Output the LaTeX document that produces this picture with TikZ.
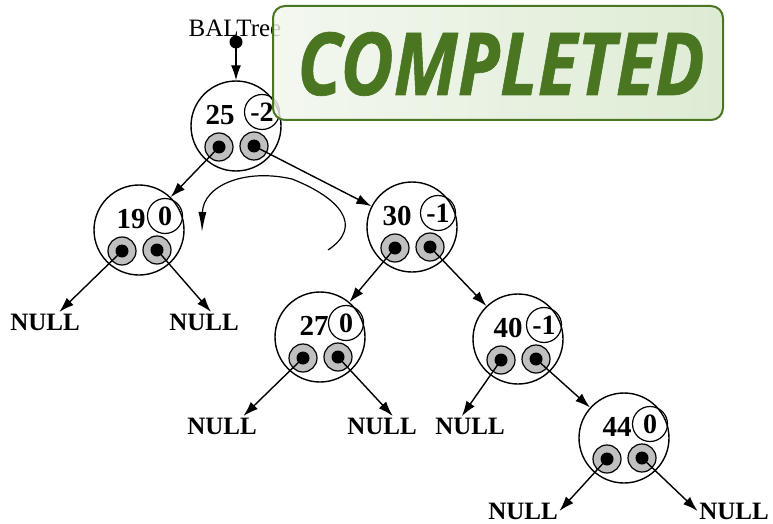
\documentclass[tikz,border=0pt]{standalone}
\usepackage{fontspec}
\setmainfont{Liberation Serif}
\newfontfamily\stampfont{Open Sans}[BoldItalicFeatures={FakeBold=0.8}]
\usetikzlibrary{arrows.meta}
\definecolor{stampG}{HTML}{4A7622}
\definecolor{stampL}{HTML}{F1F6ED}
\definecolor{stampR}{HTML}{D6E7CA}
\definecolor{ptrgray}{HTML}{C0C0C0}
\tikzset{
  bignode/.style={circle, draw, line width=1.4pt, minimum size=90pt, inner sep=0pt},
  balnode/.style={circle, draw, line width=1.2pt, minimum size=35pt, inner sep=0pt, font=\fontsize{28}{28}\selectfont\bfseries},
  keynode/.style={inner sep=0pt, font=\fontsize{29}{29}\selectfont\bfseries},
  ptrnode/.style={circle, draw, fill=ptrgray, line width=1.2pt, minimum size=28pt, inner sep=0pt},
  dotnode/.style={circle, fill=black, minimum size=13pt, inner sep=0pt},
  nullnode/.style={inner sep=1.5pt, font=\fontsize{25}{25}\selectfont\bfseries},
  conn/.style={line width=1.4pt, -{Latex[length=15pt,width=10pt]}},
  curvearrow/.style={line width=1.2pt, -{Latex[length=20pt,width=8pt]}},
  stampbox/.style={draw=stampG, line width=2pt, rounded corners=12pt, left color=stampL, right color=stampR, fill opacity=0.82, minimum width=450pt, minimum height=114pt, inner sep=0pt},
}
\newcommand\avl[6]{%
  \node[bignode] (#1) at (#2,#3) {};
  \node[keynode] (#1k) at ([shift={(#5,-11)}]#1.center) {#4};
  \node[balnode] (#1b) at ([shift={(26,-14)}]#1.center) {#6};
  \node[ptrnode] (#1l) at ([shift={(-17,21)}]#1.center) {};
  \node[ptrnode] (#1r) at ([shift={(18,20)}]#1.center) {};
  \node[dotnode] (#1ld) at (#1l.center) {};
  \node[dotnode] (#1rd) at (#1r.center) {};
}
\begin{document}
\begin{tikzpicture}[x=1pt,y=-1pt]
\useasboundingbox (0,0) rectangle (773,524);
% title and root pointer
\node[anchor=base, inner sep=0pt, font=\fontsize{25}{25}\selectfont] (title) at (235,37) {BALTree};
\node[dotnode] (root) at (236,42) {};
% tree nodes
\avl{n25}{236}{126}{25}{-16}{-2}
\avl{n19}{139}{230}{19}{-8}{0}
\avl{n30}{412}{227}{30}{-15}{-1}
\avl{n27}{320}{337}{27}{-6}{0}
\avl{n40}{518}{339}{40}{-10}{-1}
\avl{n44}{624}{438}{44}{-7}{0}
% NULL leaves
\node[nullnode] (null1) at (45,322) {NULL};
\node[nullnode] (null2) at (204,322) {NULL};
\node[nullnode] (null3) at (222,426) {NULL};
\node[nullnode] (null4) at (382,426) {NULL};
\node[nullnode] (null5) at (470,426) {NULL};
\node[nullnode] (null6) at (523,511) {NULL};
\node[nullnode] (null7) at (734,511) {NULL};
% connectors
\draw[conn] (root.center) -- (n25);
\draw[conn] (n25l.center) -- (n19);
\draw[conn] (n25r.center) -- (n30);
\draw[conn] (n19l.center) -- (null1.35);
\draw[conn] (n19r.center) -- (null2.55);
\draw[conn] (n30l.center) -- (n27);
\draw[conn] (n30r.center) -- (n40);
\draw[conn] (n27l.center) -- (null3.25);
\draw[conn] (n27r.center) -- (null4.43);
\draw[conn] (n40l.center) -- (null5.129);
\draw[conn] (n40r.center) -- (n44);
\draw[conn] (n44l.center) -- (null6.east);
\draw[conn] (n44r.center) -- (null7.west);
% rotation hint
\coordinate (rotA) at (328,250);
\coordinate (rotB) at (202,232);
\draw[curvearrow] (rotA) .. controls (364,226) and (340,198) .. (292,179)
  .. controls (244,168) and (203,186) .. (rotB);
% stamp
\node[stampbox] (stamp) at (498,63) {};
\node[anchor=base, inner sep=0pt, text=stampG] (stamptext) at (501,95)
  {\resizebox{407pt}{63pt}{\stampfont\bfseries\itshape COMPLETED}};
\end{tikzpicture}
\end{document}
